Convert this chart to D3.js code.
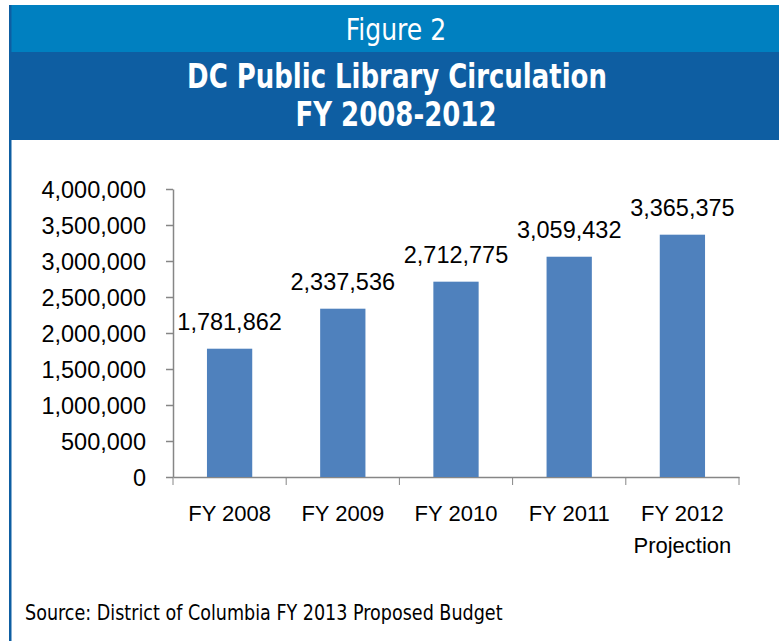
<!DOCTYPE html>
<html>
<head>
<meta charset="utf-8">
<script src="https://cdn.jsdelivr.net/npm/d3@7"></script>
<style>
  body { margin: 0; background: #fff; }
  text { fill: #000; }
</style>
</head>
<body>
<div id="chart"></div>
<script>
const chartWidth = 779
const chartHeight = 641

const categories = ['FY 2008', 'FY 2009', 'FY 2010', 'FY 2011', 'FY 2012']
const subLabels = ['', '', '', '', 'Projection']
const circulation = [1781862, 2337536, 2712775, 3059432, 3365375]
const yTicks = [0, 500000, 1000000, 1500000, 2000000, 2500000, 3000000, 3500000, 4000000]

const narrow = '"Liberation Sans Narrow", "DejaVu Sans Condensed", sans-serif'
const body = '"Liberation Sans", Arial, sans-serif'

const svg = d3.select('#chart')
    .append('svg')
    .attr('width', chartWidth)
    .attr('height', chartHeight)

// header bands
svg.append('rect').attr('x', 9).attr('y', 5).attr('width', chartWidth - 9).attr('height', 47).attr('fill', '#0080c0')
svg.append('rect').attr('x', 9).attr('y', 52).attr('width', chartWidth - 9).attr('height', 88).attr('fill', '#0e5ea2')
svg.append('rect').attr('x', 9).attr('y', 5).attr('width', 2.5).attr('height', chartHeight).attr('fill', '#0e5ea2')

svg.append('text')
    .attr('transform', 'translate(396, 40) scale(0.9, 1)')
    .attr('text-anchor', 'middle')
    .style('font-family', narrow).style('font-size', '31px')
    .style('fill', '#fff')
    .text('Figure 2')

svg.append('text')
    .attr('transform', 'translate(397, 88) scale(0.875, 1)')
    .attr('text-anchor', 'middle')
    .style('font-family', narrow).style('font-size', '33px').style('font-weight', 'bold')
    .style('fill', '#fff')
    .text('DC Public Library Circulation')

svg.append('text')
    .attr('transform', 'translate(396, 126) scale(0.875, 1)')
    .attr('text-anchor', 'middle')
    .style('font-family', narrow).style('font-size', '33px').style('font-weight', 'bold')
    .style('fill', '#fff')
    .text('FY 2008-2012')

// scales
const xScale = d3.scaleBand()
    .domain(categories)
    .range([173, 739])

const yScale = d3.scaleLinear()
    .domain([0, 4000000])
    .range([477, 189])

const barWidth = xScale.bandwidth() * 0.4

const yAxis = d3.axisLeft(yScale)
    .tickValues(yTicks)
    .tickFormat(d3.format(','))
    .tickSize(7)
    .tickPadding(20)
    .tickSizeOuter(0)
const gy = svg.append('g')
    .attr('transform', 'translate(173, 0)')
    .call(yAxis)
gy.selectAll('text').style('font-family', body).style('font-size', '23.5px').attr('dy', '0.35em')

const xAxis = d3.axisBottom(xScale)
    .tickSize(0)
    .tickFormat('')
const gx = svg.append('g')
    .attr('transform', 'translate(0, 477)')
    .call(xAxis)

// category boundary ticks
const bounds = categories.map(c => xScale(c)).concat([xScale.range()[1]])
gx.selectAll('.bound')
    .data(bounds)
    .enter()
    .append('line')
    .attr('x1', d => d).attr('x2', d => d)
    .attr('y1', 0).attr('y2', 8)
    .attr('stroke', '#868686')

svg.selectAll('.domain').attr('stroke', '#868686').attr('stroke-width', 1.5)
svg.selectAll('.tick line').attr('stroke', '#868686').attr('stroke-width', 1.5)

gx.selectAll('.cat')
    .data(categories)
    .enter()
    .append('text')
    .attr('x', d => xScale(d) + xScale.bandwidth() / 2)
    .attr('y', 44)
    .attr('text-anchor', 'middle')
    .style('font-family', body).style('font-size', '22px')
    .text(d => d)

gx.selectAll('.sub')
    .data(categories)
    .enter()
    .append('text')
    .attr('x', d => xScale(d) + xScale.bandwidth() / 2)
    .attr('y', 76)
    .attr('text-anchor', 'middle')
    .style('font-family', body).style('font-size', '22px')
    .text((d, i) => subLabels[i])

// bars
svg.selectAll('.bar')
    .data(circulation)
    .enter()
    .append('rect')
    .attr('x', (d, i) => xScale(categories[i]) + (xScale.bandwidth() - barWidth) / 2)
    .attr('y', d => yScale(d))
    .attr('width', barWidth)
    .attr('height', d => yScale(0) - yScale(d))
    .attr('fill', '#4f81bd')

svg.selectAll('.label')
    .data(circulation)
    .enter()
    .append('text')
    .attr('x', (d, i) => xScale(categories[i]) + xScale.bandwidth() / 2)
    .attr('y', d => yScale(d) - 19)
    .attr('text-anchor', 'middle')
    .style('font-family', body).style('font-size', '23.5px')
    .text(d => d3.format(',')(d))

svg.append('text')
    .attr('transform', 'translate(25, 620) scale(0.93, 1)')
    .style('font-family', narrow).style('font-size', '21px')
    .text('Source: District of Columbia FY 2013 Proposed Budget')
</script>
</body>
</html>
